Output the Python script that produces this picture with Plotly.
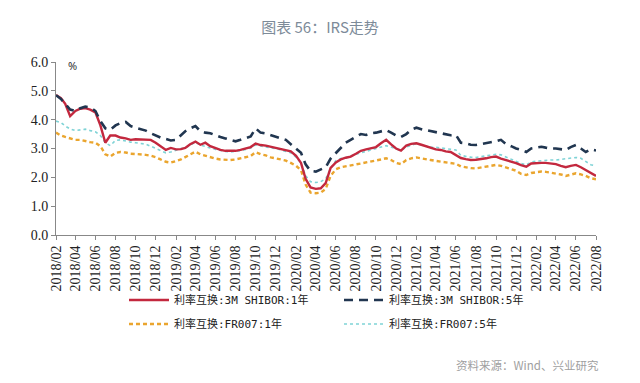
import plotly.graph_objects as go

# Half-month observation dates, 2018-02 .. 2022-08
months = []
for yr in range(2018, 2023):
    for mo in range(1, 13):
        if (yr, mo) < (2018, 2) or (yr, mo) > (2022, 8):
            continue
        months.append((yr, mo))
dates = []
for yr, mo in months:
    dates.append(f"{yr}-{mo:02d}-01")
    if (yr, mo) != (2022, 8):
        dates.append(f"{yr}-{mo:02d}-16")

shibor_1y = [
    4.85, 4.75, 4.55, 4.12, 4.30, 4.38, 4.40, 4.35, 4.25, 3.80,
    3.20, 3.45, 3.45, 3.38, 3.35, 3.30, 3.32, 3.32, 3.30, 3.30,
    3.20, 3.08, 2.95, 3.02, 2.97, 2.98, 3.02, 3.15, 3.24, 3.13,
    3.20, 3.08, 3.00, 2.95, 2.92, 2.91, 2.92, 2.95, 3.00, 3.05,
    3.17, 3.12, 3.10, 3.06, 3.04, 3.00, 2.96, 2.90, 2.75, 2.50,
    1.95, 1.65, 1.60, 1.62, 1.80, 2.33, 2.52, 2.62, 2.68, 2.72,
    2.82, 2.92, 2.97, 3.00, 3.05, 3.18, 3.30, 3.14, 3.00, 2.93,
    3.10, 3.16, 3.18, 3.13, 3.08, 3.02, 2.97, 2.95, 2.90, 2.88,
    2.78, 2.67, 2.63, 2.60, 2.61, 2.63, 2.66, 2.70, 2.72, 2.65,
    2.60, 2.55, 2.49, 2.42, 2.37, 2.48, 2.50, 2.50, 2.50, 2.47,
    2.46, 2.40, 2.35, 2.40, 2.43, 2.35, 2.25, 2.14, 2.05,
]
shibor_5y = [
    4.85, 4.72, 4.55, 4.35, 4.30, 4.40, 4.45, 4.42, 4.30, 3.95,
    3.70, 3.65, 3.80, 3.88, 3.92, 3.78, 3.72, 3.68, 3.62, 3.53,
    3.45, 3.38, 3.33, 3.28, 3.30, 3.45, 3.60, 3.70, 3.78, 3.60,
    3.55, 3.53, 3.45, 3.40, 3.35, 3.30, 3.25, 3.30, 3.35, 3.42,
    3.70, 3.55, 3.52, 3.47, 3.42, 3.36, 3.30, 3.15, 3.00, 2.85,
    2.45, 2.22, 2.20, 2.28, 2.35, 2.65, 2.85, 3.00, 3.20, 3.30,
    3.40, 3.50, 3.47, 3.53, 3.55, 3.60, 3.64, 3.55, 3.45, 3.40,
    3.50, 3.65, 3.72, 3.67, 3.64, 3.60, 3.56, 3.52, 3.48, 3.46,
    3.47, 3.20, 3.18, 3.13, 3.12, 3.15, 3.18, 3.20, 3.25, 3.30,
    3.15, 3.08, 3.00, 2.95, 2.88, 3.00, 3.03, 3.06, 3.03, 3.00,
    3.00, 2.97, 2.95, 3.05, 3.12, 3.00, 2.88, 2.97, 2.93,
]
fr007_1y = [
    3.55, 3.45, 3.40, 3.35, 3.30, 3.30, 3.25, 3.22, 3.20, 3.08,
    2.80, 2.72, 2.85, 2.88, 2.86, 2.82, 2.81, 2.80, 2.78, 2.75,
    2.70, 2.62, 2.54, 2.51, 2.56, 2.62, 2.70, 2.80, 2.89, 2.80,
    2.75, 2.69, 2.65, 2.62, 2.60, 2.60, 2.62, 2.66, 2.69, 2.74,
    2.87, 2.80, 2.76, 2.69, 2.66, 2.63, 2.58, 2.50, 2.40, 2.25,
    1.75, 1.47, 1.45, 1.47, 1.60, 2.05, 2.28, 2.35, 2.39, 2.42,
    2.45, 2.48, 2.51, 2.55, 2.58, 2.62, 2.66, 2.60, 2.50, 2.46,
    2.60, 2.66, 2.69, 2.65, 2.62, 2.60, 2.57, 2.54, 2.52, 2.50,
    2.47, 2.38, 2.34, 2.32, 2.31, 2.34, 2.37, 2.40, 2.43, 2.40,
    2.35, 2.30, 2.23, 2.12, 2.08, 2.15, 2.18, 2.20, 2.19, 2.16,
    2.14, 2.10, 2.05, 2.10, 2.14, 2.10, 2.05, 1.97, 1.93,
]
fr007_5y = [
    3.95, 3.90, 3.78, 3.68, 3.62, 3.65, 3.67, 3.62, 3.58, 3.45,
    3.20, 3.10, 3.28, 3.30, 3.25, 3.22, 3.20, 3.18, 3.15, 3.08,
    3.00, 2.92, 2.85, 2.88, 2.95, 3.00, 3.02, 3.12, 3.22, 3.12,
    3.08, 3.02, 2.97, 2.93, 2.90, 2.88, 2.90, 2.93, 2.97, 3.02,
    3.12, 3.08, 3.06, 3.02, 3.00, 2.95, 2.90, 2.85, 2.70, 2.50,
    2.05, 1.85, 1.82, 1.85, 1.95, 2.30, 2.58, 2.65, 2.68, 2.75,
    2.80, 2.85, 2.90, 2.95, 2.98, 3.03, 3.10, 3.05, 2.98, 2.93,
    3.05, 3.12, 3.17, 3.12, 3.08, 3.05, 3.04, 3.02, 3.00, 2.98,
    2.95, 2.76, 2.72, 2.70, 2.69, 2.72, 2.76, 2.79, 2.80, 2.78,
    2.70, 2.62, 2.55, 2.48, 2.43, 2.53, 2.56, 2.58, 2.58, 2.60,
    2.60, 2.62, 2.63, 2.67, 2.69, 2.66, 2.56, 2.44, 2.39,
]
assert all(len(s) == len(dates) for s in (shibor_1y, shibor_5y, fr007_1y, fr007_5y))

tick_vals = [f"{yr}-{mo:02d}-01" for yr, mo in months if mo % 2 == 0]
tick_text = [f"{yr}/{mo:02d}" for yr, mo in months if mo % 2 == 0]

names = ["利率互换:3M SHIBOR:1年", "利率互换:3M SHIBOR:5年",
         "利率互换:FR007:1年", "利率互换:FR007:5年"]

SERIF = "Liberation Serif, Times New Roman, serif"
LEGFONT = dict(family="DejaVu Sans Mono, Noto Sans CJK SC", size=11, color="#222")

L, R, T, B = 56, 44, 62, 148
W, H = 640, 383
PW, PH = W - L - R, H - T - B


def px_x(x):
    return (x - L) / PW


def px_y(y):
    return (H - B - y) / PH


fig = go.Figure()
fig.add_trace(go.Scatter(x=dates, y=fr007_5y, mode="lines", name=names[3], legend="legend4",
                         line=dict(color="#7fd3d6", width=1.6, dash="dot")))
fig.add_trace(go.Scatter(x=dates, y=fr007_1y, mode="lines", name=names[2], legend="legend3",
                         line=dict(color="#eaa52e", width=2.4, dash="4px,3px")))
fig.add_trace(go.Scatter(x=dates, y=shibor_1y, mode="lines", name=names[0], legend="legend",
                         line=dict(color="#c3283e", width=2.4)))
fig.add_trace(go.Scatter(x=dates, y=shibor_5y, mode="lines", name=names[1], legend="legend2",
                         line=dict(color="#213650", width=2.6, dash="9px,6px")))


def leg(x, y):
    return dict(x=px_x(x), y=px_y(y), xanchor="left", yanchor="middle",
                font=LEGFONT, bgcolor="rgba(0,0,0,0)", itemwidth=40, borderwidth=0)


fig.update_layout(
    width=W, height=H,
    margin=dict(l=L, r=R, t=T, b=B),
    paper_bgcolor="white", plot_bgcolor="white",
    showlegend=True,
    legend=leg(124, 300),
    legend2=leg(339, 300),
    legend3=leg(124, 324),
    legend4=leg(339, 324),
    title=dict(text="图表 56：IRS走势", x=0.5, xanchor="center", y=1 - 28 / H, yanchor="middle",
               font=dict(family="Noto Sans CJK SC", size=15, color="#7d8b99")),
    annotations=[
        dict(text="%", x=px_x(66), y=px_y(65), xref="paper", yref="paper", showarrow=False,
             xanchor="left", yanchor="middle", font=dict(family="Noto Sans", size=11, color="#333")),
        dict(text="资料来源：Wind、兴业研究", x=px_x(601), y=px_y(365), xref="paper", yref="paper",
             xanchor="right", yanchor="middle",
             showarrow=False, font=dict(family="Noto Sans CJK SC", size=11.5, color="#a0a0a0")),
    ],
)

fig.update_xaxes(type="date", range=["2018-02-01", "2022-08-01"],
                 tickmode="array", tickvals=tick_vals, ticktext=tick_text, tickangle=-90,
                 ticks="outside", ticklen=4, tickcolor="#888", showline=True, linecolor="#888",
                 linewidth=1, showgrid=False, zeroline=False,
                 tickfont=dict(family=SERIF, size=14, color="#222"))
fig.update_yaxes(range=[0, 6], dtick=1, tickformat=".1f", ticks="outside", ticklen=4,
                 tickcolor="#888", showline=True, linecolor="#888", linewidth=1,
                 showgrid=False, zeroline=False,
                 tickfont=dict(family=SERIF, size=14, color="#222"))

fig.write_html("out.html", config={"displayModeBar": False},
               post_script="document.body.style.margin='0';document.body.style.padding='0';")
